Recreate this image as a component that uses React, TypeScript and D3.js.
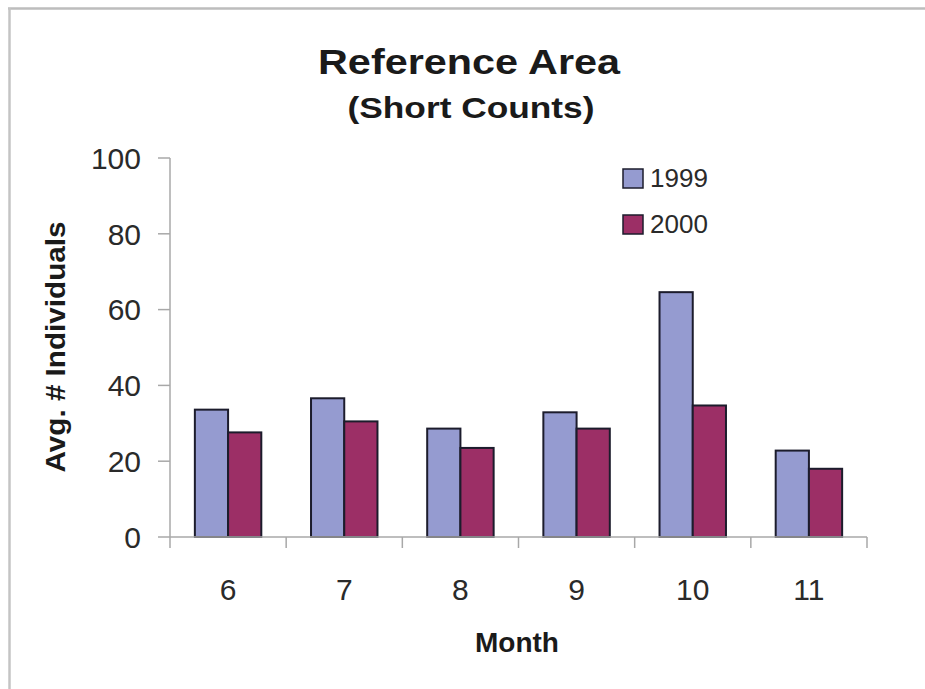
import React from "react";
import * as d3 from "d3";

const months = ["6", "7", "8", "9", "10", "11"];
const series1999 = [33.6, 36.6, 28.6, 32.9, 64.6, 22.8];
const series2000 = [27.6, 30.5, 23.5, 28.6, 34.7, 18.0];
const seriesNames = ["1999", "2000"];
const yTicks = [0, 20, 40, 60, 80, 100];

const W = 925;
const H = 689;
const plot = { left: 170, right: 867, top: 158, bottom: 537 };
const colors = ["#959bd0", "#9c2f66"];
const font = "Arial, 'Liberation Sans', Helvetica, sans-serif";

export default function App() {
  const x = d3
    .scaleBand<string>()
    .domain(months)
    .range([plot.left, plot.right])
    .paddingInner(0)
    .paddingOuter(0);
  const bw = x.bandwidth();
  const inner = d3
    .scaleBand<string>()
    .domain(seriesNames)
    .range([bw * 0.214, bw * 0.786])
    .padding(0);
  const y = d3.scaleLinear().domain([0, 100]).range([plot.bottom, plot.top]);
  const data = [series1999, series2000];
  const boundaries = months.map((m) => x(m) as number).concat([plot.right]);

  return (
    <svg
      width={W}
      height={H}
      style={{ position: "absolute", left: 0, top: 0, background: "#fff" }}
      fontFamily={font}
    >
      <rect x={0} y={0} width={W} height={H} fill="#fff" />
      {/* frame */}
      <line x1={8} x2={W} y1={8.5} y2={8.5} stroke="#bdbdbd" strokeWidth={2.5} />
      <line x1={9.5} x2={9.5} y1={8} y2={H} stroke="#c4c4c4" strokeWidth={2.5} />

      {/* title */}
      <text x={469} y={74} textAnchor="middle" fontSize={35} fontWeight="bold" fill="#1a1a1a" textLength={302} lengthAdjust="spacingAndGlyphs">
        Reference Area
      </text>
      <text x={471} y={118} textAnchor="middle" fontSize={30} fontWeight="bold" fill="#1a1a1a" textLength={247} lengthAdjust="spacingAndGlyphs">
        (Short Counts)
      </text>

      {/* y axis */}
      <line x1={plot.left} x2={plot.left} y1={plot.top} y2={plot.bottom} stroke="#a8a8a8" strokeWidth={1.5} />
      {yTicks.map((t) => (
        <g key={t}>
          <line x1={plot.left - 12} x2={plot.left} y1={y(t)} y2={y(t)} stroke="#a8a8a8" strokeWidth={1.5} />
          <text x={141} y={y(t)} dy="0.36em" textAnchor="end" fontSize={30} fill="#2a2a2a">
            {t}
          </text>
        </g>
      ))}

      {/* bars */}
      {months.map((m, i) => (
        <g key={m} transform={`translate(${x(m)},0)`}>
          {data.map((s, j) => (
            <rect
              key={j}
              x={inner(seriesNames[j])}
              y={y(s[i])}
              width={inner.bandwidth()}
              height={y(0) - y(s[i])}
              fill={colors[j]}
              stroke="#1c1c2c"
              strokeWidth={2}
            />
          ))}
        </g>
      ))}

      {/* x axis */}
      <line x1={plot.left} x2={plot.right} y1={plot.bottom} y2={plot.bottom} stroke="#a8a8a8" strokeWidth={1.5} />
      {boundaries.map((b, i) => (
        <line key={i} x1={b} x2={b} y1={plot.bottom} y2={plot.bottom + 11} stroke="#a8a8a8" strokeWidth={1.5} />
      ))}
      {months.map((m) => (
        <text key={m} x={(x(m) as number) + bw / 2} y={600} textAnchor="middle" fontSize={30} fill="#2a2a2a">
          {m}
        </text>
      ))}

      {/* axis titles */}
      <text x={517} y={652} textAnchor="middle" fontSize={28} fontWeight="bold" fill="#1a1a1a">
        Month
      </text>
      <text
        transform={`translate(65,347) rotate(-90)`}
        textAnchor="middle"
        fontSize={28}
        fontWeight="bold"
        fill="#1a1a1a"
        textLength={251}
        lengthAdjust="spacingAndGlyphs"
      >
        Avg. # Individuals
      </text>

      {/* legend */}
      {seriesNames.map((n, j) => (
        <g key={n} transform={`translate(623,${169 + j * 46})`}>
          <rect x={0} y={0} width={20} height={19} fill={colors[j]} stroke="#1c1c2c" strokeWidth={1.5} />
          <text x={27} y={18} fontSize={26} fill="#2a2a2a">
            {n}
          </text>
        </g>
      ))}
    </svg>
  );
}
